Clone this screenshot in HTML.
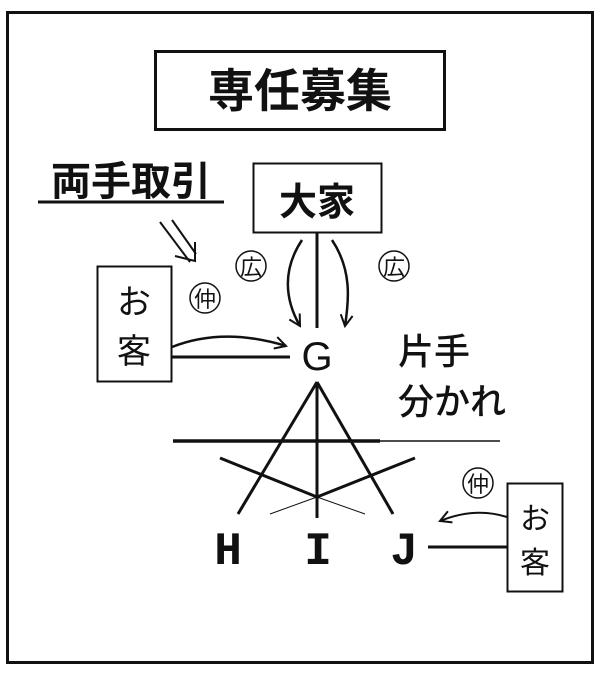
<!DOCTYPE html>
<html><head><meta charset="utf-8"><style>
html,body{margin:0;padding:0;background:#fff}
svg text{font-family:"Liberation Sans","Noto Sans CJK JP",sans-serif;fill:#111}
</style></head><body>
<svg width="600" height="670" viewBox="0 0 600 670" xmlns="http://www.w3.org/2000/svg">
<defs>
<marker id="ah" markerWidth="14" markerHeight="14" refX="12" refY="7" orient="auto" markerUnits="userSpaceOnUse">
<path d="M1,1 L12,7 L1,13" fill="none" stroke="#111" stroke-width="2"/>
</marker>
</defs>
<g fill="none" stroke="#111">
<rect x="7.5" y="12.5" width="585" height="650" stroke-width="3"/>
<rect x="155.5" y="51.5" width="289" height="78" stroke-width="3"/>
<rect x="253.5" y="163.5" width="128" height="69" stroke-width="2"/>
<rect x="97.5" y="266.5" width="74" height="115" stroke-width="2"/>
<rect x="507.5" y="483.5" width="55" height="108" stroke-width="2"/>
<line x1="38" y1="202" x2="224" y2="202" stroke-width="3"/>
<line x1="160" y1="222" x2="190" y2="262" stroke-width="2"/>
<line x1="172" y1="220" x2="196" y2="254" stroke-width="2"/>
<polyline points="175,256 195,261 195,242" stroke-width="2"/>
<circle cx="251" cy="266" r="15" stroke-width="1.5"/>
<circle cx="394" cy="266" r="15" stroke-width="1.5"/>
<circle cx="205" cy="298" r="15" stroke-width="1.5"/>
<circle cx="478" cy="483" r="15" stroke-width="1.5"/>
<line x1="317" y1="233" x2="317" y2="328" stroke-width="3"/>
<path d="M302,240 C282,270 285,300 300,326" stroke-width="2.5" marker-end="url(#ah)"/>
<path d="M332,240 C352,270 349,300 345,326" stroke-width="2.5" marker-end="url(#ah)"/>
<path d="M172,347 C210,332 250,335 286,346" stroke-width="2.5" marker-end="url(#ah)"/>
<line x1="172" y1="357" x2="290" y2="357" stroke-width="3"/>
<line x1="317" y1="382" x2="238" y2="514" stroke-width="3"/>
<line x1="317" y1="382" x2="393" y2="514" stroke-width="3"/>
<line x1="317" y1="382" x2="317" y2="518" stroke-width="3"/>
<line x1="173" y1="441" x2="380" y2="441" stroke-width="3.5"/>
<line x1="380" y1="441" x2="500" y2="441" stroke-width="1.5"/>
<line x1="220" y1="458" x2="317" y2="497" stroke-width="3"/>
<line x1="415" y1="458" x2="317" y2="497" stroke-width="3"/>
<line x1="317" y1="497" x2="365" y2="514" stroke-width="1"/>
<line x1="317" y1="497" x2="270" y2="514" stroke-width="1"/>
<path d="M507,517 C485,510 462,512 440,521" stroke-width="2" marker-end="url(#ah)"/>
<line x1="428" y1="547" x2="507" y2="547" stroke-width="3"/>
</g>
<text x="300" y="107" font-size="46" font-weight="bold" text-anchor="middle">専任募集</text>
<text x="131" y="195" font-size="40" font-weight="bold" text-anchor="middle">両手取引</text>
<text x="317" y="215" font-size="38" font-weight="bold" text-anchor="middle">大家</text>
<text x="134" y="314" font-size="34" text-anchor="middle">お</text>
<text x="134" y="363" font-size="34" text-anchor="middle">客</text>
<text x="535" y="529" font-size="30" text-anchor="middle">お</text>
<text x="535" y="573" font-size="30" text-anchor="middle">客</text>
<text x="251" y="275" font-size="22" text-anchor="middle">広</text>
<text x="394" y="275" font-size="22" text-anchor="middle">広</text>
<text x="205" y="307" font-size="22" text-anchor="middle">仲</text>
<text x="478" y="492" font-size="22" text-anchor="middle">仲</text>
<text x="317" y="370" font-size="40" text-anchor="middle">G</text>
<text x="398" y="364" font-size="36" font-weight="500">片手</text>
<text x="398" y="414" font-size="36" font-weight="500">分かれ</text>
<text x="228" y="564" font-size="46" font-weight="bold" text-anchor="middle" style="font-family:'Liberation Mono',monospace">H</text>
<text x="318" y="564" font-size="46" font-weight="bold" text-anchor="middle" style="font-family:'Liberation Mono',monospace">I</text>
<text x="404" y="564" font-size="46" font-weight="bold" text-anchor="middle" style="font-family:'Liberation Mono',monospace">J</text>
</svg>
</body></html>
